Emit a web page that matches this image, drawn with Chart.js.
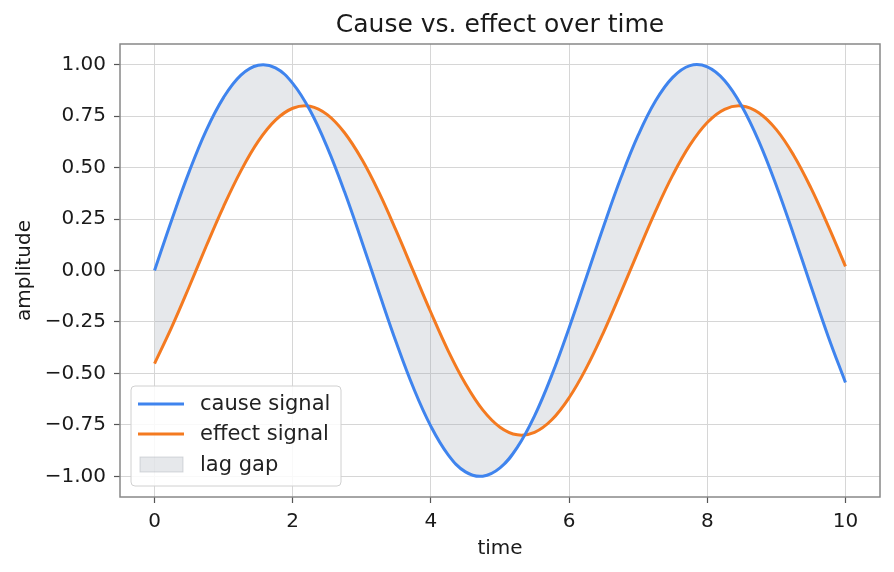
<!DOCTYPE html>
<html lang="en">
<head>
    <meta charset="UTF-8">
    <title>Cause vs. effect over time</title>
    <script src="https://cdn.jsdelivr.net/npm/chart.js"></script>
    <style>
        html, body { margin: 0; padding: 0; background: #ffffff; }
        #wrap { width: 894px; height: 572px; }
    </style>
</head>
<body>
    <div id="wrap"><canvas id="lagChart"></canvas></div>

    <script>
        // values
        const timeValues = [
            0, 0.25, 0.5, 0.75, 1, 1.25, 1.5, 1.75, 2, 2.25, 2.5, 2.75, 3, 3.25,
            3.5, 3.75, 4, 4.25, 4.5, 4.75, 5, 5.25, 5.5, 5.75, 6, 6.25, 6.5, 6.75,
            7, 7.25, 7.5, 7.75, 8, 8.25, 8.5, 8.75, 9, 9.25, 9.5, 9.75, 10
        ];
        const causeSignal = [
            0, 0.247, 0.479, 0.682, 0.841, 0.949, 0.997, 0.984, 0.909, 0.778, 0.598, 0.382, 0.141, -0.108,
            -0.351, -0.572, -0.757, -0.895, -0.978, -0.999, -0.959, -0.859, -0.706, -0.508, -0.279, -0.033, 0.215, 0.450,
            0.657, 0.823, 0.938, 0.995, 0.989, 0.923, 0.798, 0.625, 0.412, 0.174, -0.075, -0.320, -0.544
        ];
        const effectSignal = [
            -0.452, -0.274, -0.080, 0.120, 0.312, 0.484, 0.627, 0.730, 0.788, 0.798, 0.757, 0.669, 0.540, 0.378,
            0.191, -0.007, -0.204, -0.390, -0.550, -0.677, -0.761, -0.798, -0.786, -0.725, -0.618, -0.473, -0.299, -0.106,
            0.093, 0.287, 0.463, 0.610, 0.719, 0.783, 0.799, 0.765, 0.684, 0.560, 0.401, 0.217, 0.020
        ];
        const xTickValues = [0, 2, 4, 6, 8, 10];
        const yTickValues = [-1, -0.75, -0.5, -0.25, 0, 0.25, 0.5, 0.75, 1];
        const seriesNames = ['cause signal', 'effect signal', 'lag gap'];
        const chartTitle = 'Cause vs. effect over time';

        const FONT = 'DejaVu Sans';
        const blue = '#3f84ee';
        const orange = '#f47a20';
        const gapFill = 'rgba(160,168,176,0.26)';

        const toPoints = ys => ys.map((y, i) => ({ x: timeValues[i], y: y }));

        // title centred over the plot, frame around the plot, legend box lower left
        const framePlugin = {
            id: 'frameAndLegend',
            afterDraw(chart) {
                const { ctx, chartArea: a } = chart;
                ctx.save();
                ctx.font = '25px "' + FONT + '"';
                ctx.fillStyle = '#1a1a1a';
                ctx.textAlign = 'center';
                ctx.textBaseline = 'middle';
                ctx.fillText(chartTitle, (a.left + a.right) / 2, 25);

                ctx.strokeStyle = '#888888';
                ctx.lineWidth = 1.5;
                ctx.strokeRect(a.left, a.top, a.right - a.left, a.bottom - a.top);

                const bx = a.left + 11, bw = 210, bh = 100;
                const by = a.bottom - 11 - bh;
                ctx.beginPath();
                ctx.roundRect(bx, by, bw, bh, 4);
                ctx.fillStyle = 'rgba(255,255,255,0.85)';
                ctx.fill();
                ctx.strokeStyle = '#d0d0d0';
                ctx.lineWidth = 1;
                ctx.stroke();

                const rows = [by + 18, by + 48, by + 79];
                ctx.font = '21px "' + FONT + '"';
                ctx.textAlign = 'left';
                const ds = chart.data.datasets;
                for (let i = 0; i < 3; i++) {
                    const y = rows[i];
                    if (i < 2) {
                        ctx.strokeStyle = ds[i].borderColor;
                        ctx.lineWidth = 3;
                        ctx.beginPath();
                        ctx.moveTo(bx + 7, y);
                        ctx.lineTo(bx + 53, y);
                        ctx.stroke();
                    } else {
                        ctx.fillStyle = ds[i].backgroundColor;
                        ctx.fillRect(bx + 9, y - 8, 43, 15);
                        ctx.strokeStyle = 'rgba(160,168,176,0.4)';
                        ctx.lineWidth = 1;
                        ctx.strokeRect(bx + 9, y - 8, 43, 15);
                    }
                    ctx.fillStyle = '#222222';
                    ctx.fillText(ds[i].label, bx + 69, y + 1);
                }
                ctx.restore();
            }
        };

        new Chart(document.getElementById('lagChart'), {
            type: 'line',
            data: {
                datasets: [
                    {
                        label: seriesNames[0],
                        data: toPoints(causeSignal),
                        borderColor: blue,
                        borderWidth: 3,
                        pointRadius: 0,
                        tension: 0.4,
                        fill: false
                    },
                    {
                        label: seriesNames[1],
                        data: toPoints(effectSignal),
                        borderColor: orange,
                        borderWidth: 3,
                        pointRadius: 0,
                        tension: 0.4,
                        fill: false
                    },
                    {
                        label: seriesNames[2],
                        data: toPoints(causeSignal),
                        borderColor: 'rgba(0,0,0,0)',
                        borderWidth: 0,
                        backgroundColor: gapFill,
                        pointRadius: 0,
                        tension: 0.4,
                        fill: 1
                    }
                ]
            },
            options: {
                responsive: true,
                maintainAspectRatio: false,
                animation: false,
                layout: { padding: { left: 0, right: 14, top: 44, bottom: 0 } },
                plugins: {
                    legend: { display: false },
                    tooltip: { enabled: false },
                    title: { display: false }
                },
                scales: {
                    x: {
                        type: 'linear',
                        min: -0.5,
                        max: 10.5,
                        afterBuildTicks: s => { s.ticks = xTickValues.map(v => ({ value: v })); },
                        afterFit: s => { s.height = 75; },
                        border: { display: false },
                        grid: { color: '#d6d6d6', lineWidth: 1, tickColor: '#555555', tickLength: 6, tickWidth: 1.2 },
                        ticks: {
                            color: '#1a1a1a',
                            padding: 7,
                            maxRotation: 0,
                            font: { family: FONT, size: 20 },
                            callback: v => String(v)
                        },
                        title: {
                            display: true,
                            text: 'time',
                            color: '#1a1a1a',
                            font: { family: FONT, size: 20 },
                            padding: { top: 11, bottom: 11 }
                        }
                    },
                    y: {
                        min: -1.1,
                        max: 1.1,
                        afterBuildTicks: s => { s.ticks = yTickValues.map(v => ({ value: v })); },
                        afterFit: s => { s.width = 120; },
                        border: { display: false },
                        grid: { color: '#d6d6d6', lineWidth: 1, tickColor: '#555555', tickLength: 6, tickWidth: 1.2 },
                        ticks: {
                            color: '#1a1a1a',
                            padding: 8,
                            font: { family: FONT, size: 20 },
                            callback: v => (v < 0 ? '\u2212' : '') + Math.abs(v).toFixed(2)
                        },
                        title: {
                            display: true,
                            text: 'amplitude',
                            color: '#1a1a1a',
                            font: { family: FONT, size: 20 },
                            padding: { top: 13, bottom: 7 }
                        }
                    }
                }
            },
            plugins: [framePlugin]
        });
    </script>
</body>
</html>
